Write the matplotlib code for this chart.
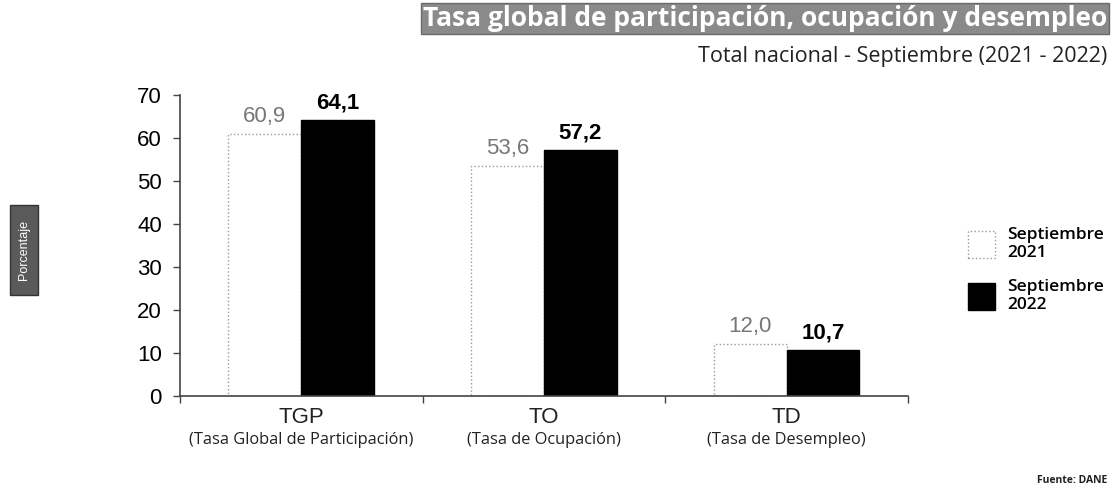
import matplotlib
matplotlib.use("Agg")
import numpy as np
from matplotlib import pyplot as plt
from matplotlib.patches import Rectangle

# data
categorias = ["TGP", "TO", "TD"]
nombres = ["(Tasa Global de Participación)", "(Tasa de Ocupación)", "(Tasa de Desempleo)"]
sep_2021 = [60.9, 53.6, 12.0]
sep_2022 = [64.1, 57.2, 10.7]
series = ["Septiembre\n2021", "Septiembre\n2022"]
yticks = [0, 10, 20, 30, 40, 50, 60, 70]


def coma(v):
    """Decimal comma like the source"""
    return f"{v:.1f}".replace(".", ",")


plt.rcParams["font.family"] = ["Liberation Sans", "DejaVu Sans"]
otra = ["Open Sans", "DejaVu Sans"]

fig = plt.figure(figsize=(11.15, 4.93), dpi=100)
ax = fig.add_axes([0.1614, 0.1968, 0.6529, 0.6105])

x = np.arange(len(categorias))
w = 0.30
b1 = ax.bar(x - w / 2, sep_2021, w, color="white", edgecolor="#9a9a9a",
            linestyle=":", linewidth=1.0, label=series[0])
b2 = ax.bar(x + w / 2, sep_2022, w, color="black", edgecolor="black",
            label=series[1])

for r, v in zip(b1, sep_2021):
    ax.annotate(coma(v), (r.get_x() + r.get_width() / 2, v), xytext=(0, 5),
                textcoords="offset points", ha="center", va="bottom",
                fontsize=16, color="#777777")
for r, v in zip(b2, sep_2022):
    ax.annotate(coma(v), (r.get_x() + r.get_width() / 2, v), xytext=(0, 5),
                textcoords="offset points", ha="center", va="bottom",
                fontsize=16, color="black", fontweight="bold")

ax.set_xlim(-0.5, len(categorias) - 0.5)
ax.set_ylim(0, 70)
ax.set_yticks(yticks)
ax.tick_params(axis="y", labelsize=16, length=5, width=1, color="#444444", pad=8)
ax.set_xticks(np.arange(len(categorias) + 1) - 0.5)
ax.set_xticklabels([])
ax.tick_params(axis="x", length=5, width=1, color="#444444")
for s in ["top", "right"]:
    ax.spines[s].set_visible(False)
for s in ["left", "bottom"]:
    ax.spines[s].set_color("#444444")
    ax.spines[s].set_linewidth(1.2)

tr = ax.get_xaxis_transform()
for i, (c, n) in enumerate(zip(categorias, nombres)):
    ax.text(i, -0.035, c, transform=tr, ha="center", va="top", fontsize=16,
            color="#222222")
    ax.text(i, -0.12, n, transform=tr, ha="center", va="top", fontsize=11.8,
            family=otra, color="#222222")

ax.legend(handles=[b1, b2], labels=series, loc="center left",
          bbox_to_anchor=(0.86, 0.452), bbox_transform=fig.transFigure,
          frameon=False, handlelength=1.6, handleheight=2.0,
          labelspacing=1.0, handletextpad=0.7, borderpad=0,
          prop={"family": otra, "weight": "semibold", "size": 12.5})

fig.text(0.993, 0.962, "Tasa global de participación, ocupación y desempleo",
         ha="right", va="center", fontsize=19, fontweight="bold", color="white",
         family=otra,
         bbox=dict(boxstyle="square,pad=0.08", facecolor="#8a8a8a",
                   edgecolor="#6a6a6a"))
fig.text(0.993, 0.885, "Total nacional - Septiembre (2021 - 2022)", ha="right",
         va="center", fontsize=15.5, color="#222222", family=otra)

fig.patches.append(Rectangle((10 / 1115, 1 - 295 / 493), 28 / 1115, 90 / 493,
                             transform=fig.transFigure, facecolor="#5a5a5a",
                             edgecolor="#333333"))
fig.text(24 / 1115, 1 - 250 / 493, "Porcentaje", rotation=90, ha="center",
         va="center", fontsize=9, color="white")
fig.text(0.993, 0.025, "Fuente: DANE", ha="right", va="center", fontsize=7.5,
         fontweight="bold", color="#222222", family=otra)

fig.savefig("out.png", dpi=100)
